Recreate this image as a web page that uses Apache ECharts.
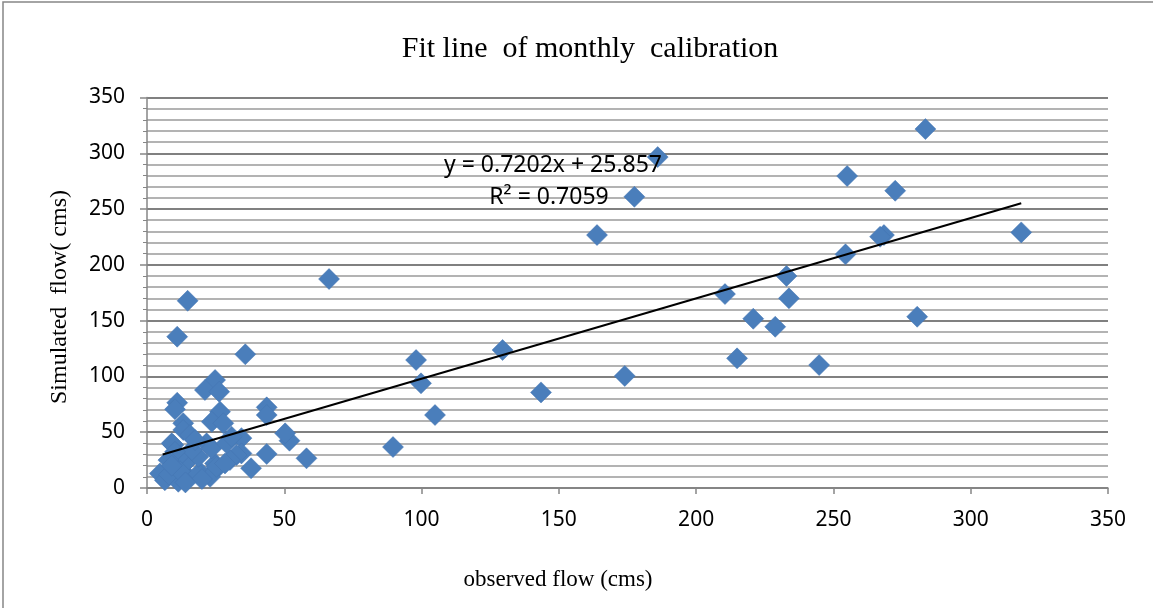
<!DOCTYPE html>
<html>
<head>
<meta charset="utf-8">
<title>Fit line of monthly calibration</title>
<script src="https://cdn.jsdelivr.net/npm/echarts@6/dist/echarts.min.js"></script>
<style>
    html, body { margin: 0; padding: 0; background: #fff; }
    #chart { width: 1153px; height: 608px; }
</style>
</head>
<body>
<div id="chart"></div>
<script>
    // observed / simulated monthly flow (cms)
    const observed = [
        283.5, 186, 177.5, 163.9, 255, 272.5, 268.4, 267, 318.4, 254.4,
        232.9, 210.5, 233.8, 220.8, 228.8, 280.5, 214.9, 244.8, 174, 143.5,
        129.5, 99.8, 98, 104.9, 89.6, 66.3, 58.1, 51.9, 50.3, 43.6,
        43.6, 43.6, 35.8, 37.9,
        14.8, 11, 24.8, 21.1, 26.3, 11, 10.2, 26.6, 23.6, 27.8,
        13.2, 13.2, 34.4, 21.7, 9.6, 15.7, 34.4, 32.6, 30.2, 24.8,
        24.8, 19.9, 15.7, 9, 4.7, 6.5, 11.4, 15, 18.7, 23,
        25.3, 28.4, 13.8, 11.4, 18.7, 16.3, 23.5, 29, 30.8, 10.2,
        7.8, 17.5, 8, 12, 20, 9, 14
    ];
    const simulated = [
        321.7, 296.6, 261, 226.7, 279.6, 266.4, 226.7, 225.2, 229.1, 209.4,
        190, 173.8, 170, 151.7, 144.5, 153.5, 116.2, 110.2, 100.4, 85.7,
        123.7, 93.8, 114.7, 65.4, 36.7, 187.3, 26.6, 42.4, 49, 72.3,
        65.4, 30.5, 119.8, 17.7,
        167.8, 135.6, 96.8, 87.8, 86.3, 76.4, 70.5, 68.4, 59.4, 58,
        58, 52, 44.7, 40, 38.5, 47.5, 31, 29.6, 25, 22,
        16, 13, 26.6, 40, 13, 7, 5.6, 10, 13, 10,
        19, 22, 22, 28, 28, 34, 35.5, 40, 46, 32.5,
        25, 43, 12, 15, 8, 20, 5
    ];
    const slope = 0.7202;
    const intercept = 25.857;
    const rSquared = 0.7059;
    const yTicks = [0, 50, 100, 150, 200, 250, 300, 350];

    let points = observed.map((x, i) => [x, simulated[i]]);
    let xMin = Math.min.apply(null, observed);
    let xMax = Math.max.apply(null, observed);
    let fitLine = [xMin + 1, xMax].map(x => [x, slope * x + intercept]);

    const labelFont = 'Noto Sans';
    const titleFont = 'Liberation Serif';

    let chart = echarts.init(document.getElementById('chart'));
    chart.setOption({
        backgroundColor: '#fff',
        animation: false,
        title: {
            text: 'Fit line  of monthly  calibration',
            left: 585,
            top: 29,
            textAlign: 'center',
            textStyle: {
                fontFamily: titleFont,
                fontWeight: 'normal',
                fontSize: 30,
                color: '#000'
            }
        },
        grid: {
            left: 147,
            right: 45,
            top: 97.5,
            bottom: 120
        },
        xAxis: {
            type: 'value',
            min: 0,
            max: 350,
            interval: 50,
            axisLine: { show: true, onZero: false, lineStyle: { color: '#868686', width: 1.5 } },
            axisTick: { show: true, length: 6, lineStyle: { color: '#868686', width: 1.5 } },
            splitLine: { show: false },
            axisLabel: {
                margin: 22,
                fontFamily: labelFont,
                fontSize: 21,
                color: '#000'
            }
        },
        yAxis: {
            type: 'value',
            min: 0,
            max: 350,
            interval: 50,
            axisLine: { show: true, lineStyle: { color: '#868686', width: 1.5 } },
            axisTick: { show: true, length: 7, lineStyle: { color: '#868686', width: 1.5 } },
            minorTick: { show: true, splitNumber: 5, length: 4, lineStyle: { color: '#868686' } },
            splitLine: { show: true, lineStyle: { color: '#808080', width: 2 } },
            minorSplitLine: { show: true, lineStyle: { color: '#b3b3b3', width: 2 } },
            axisLabel: {
                margin: 22,
                fontFamily: labelFont,
                fontSize: 21,
                color: '#000',
                formatter: v => yTicks.indexOf(v) >= 0 ? String(v) : ''
            }
        },
        graphic: [
            {
                type: 'rect',
                shape: { x: 3, y: 2, width: 1200, height: 700 },
                style: { fill: 'none', stroke: '#868686', lineWidth: 1.5 },
                silent: true,
                z: -1
            },
            {
                type: 'text',
                x: 60,
                y: 297,
                rotation: Math.PI / 2,
                style: {
                    text: 'Simulated  flow( cms)',
                    fontFamily: titleFont,
                    fontSize: 24,
                    fill: '#000',
                    textAlign: 'center',
                    textVerticalAlign: 'middle'
                }
            },
            {
                type: 'text',
                x: 558,
                y: 580,
                style: {
                    text: 'observed flow (cms)',
                    fontFamily: titleFont,
                    fontSize: 23,
                    fill: '#000',
                    textAlign: 'center',
                    textVerticalAlign: 'middle'
                }
            },
            {
                type: 'text',
                x: 553,
                y: 165,
                style: {
                    text: 'y = 0.7202x + 25.857',
                    fontFamily: labelFont,
                    fontSize: 23,
                    fill: '#000',
                    textAlign: 'center',
                    textVerticalAlign: 'middle'
                },
                z: 10
            },
            {
                type: 'text',
                x: 549,
                y: 197,
                style: {
                    text: 'R² = ' + rSquared,
                    fontFamily: labelFont,
                    fontSize: 23,
                    fill: '#000',
                    textAlign: 'center',
                    textVerticalAlign: 'middle'
                },
                z: 10
            }
        ],
        series: [
            {
                name: 'monthly',
                type: 'scatter',
                symbol: 'diamond',
                symbolSize: 21,
                itemStyle: {
                    color: '#4a7ebb',
                    opacity: 1,
                    borderColor: '#4575b0',
                    borderWidth: 0.5
                },
                data: points,
                z: 3
            },
            {
                name: 'fit',
                type: 'line',
                data: fitLine,
                symbol: 'none',
                lineStyle: { color: '#000', width: 2 },
                z: 4
            }
        ]
    });
</script>
</body>
</html>
